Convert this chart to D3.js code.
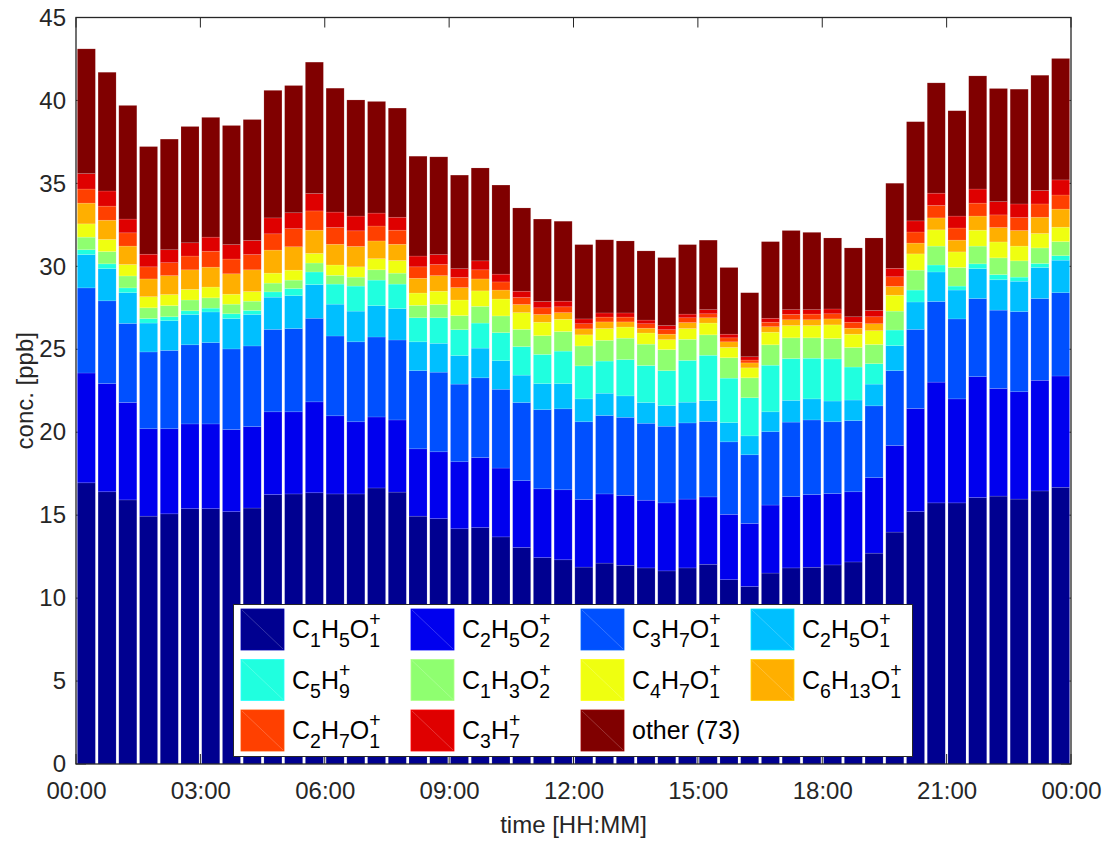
<!DOCTYPE html>
<html>
<head>
<meta charset="utf-8">
<script src="https://cdn.jsdelivr.net/npm/d3@7"></script>
<style>
  html, body { margin: 0; padding: 0; background: #fff; }
  svg { display: block; font-family: "Liberation Sans", Arial, Helvetica, sans-serif; }
</style>
</head>
<body>
<svg id="chart" width="1109" height="841"></svg>
<script>
// ---------------- DATA ----------------
const times = ["00:00","00:30","01:00","01:30","02:00","02:30","03:00","03:30","04:00","04:30","05:00","05:30",
  "06:00","06:30","07:00","07:30","08:00","08:30","09:00","09:30","10:00","10:30","11:00","11:30",
  "12:00","12:30","13:00","13:30","14:00","14:30","15:00","15:30","16:00","16:30","17:00","17:30",
  "18:00","18:30","19:00","19:30","20:00","20:30","21:00","21:30","22:00","22:30","23:00","23:30"];

const seriesNames = ["C1H5O1+","C2H5O2+","C3H7O1+","C2H5O1+","C5H9+","C1H3O2+","C4H7O1+","C6H13O1+","C2H7O1+","C3H7+","other (73)"];
const seriesColors = ["#000090","#0000EE","#0050FF","#00BFFF","#20FFDF","#8FFF70","#EFFF10","#FFAF00","#FF4000","#DF0000","#800000"];

const C1H5O1 = [16.95,16.41,15.92,14.94,15.08,15.39,15.39,15.21,15.43,16.24,16.28,16.35,16.28,16.28,16.64,16.39,14.94,14.79,14.18,14.25,13.69,13.05,12.44,12.31,11.87,12.11,11.98,11.82,11.64,11.82,12.04,11.11,10.70,11.51,11.82,11.86,12.00,12.18,12.71,13.98,15.21,15.74,15.74,16.06,16.15,15.97,16.46,16.68];
const C2H5O2 = [6.62,6.52,5.87,5.27,5.13,5.11,5.11,4.95,4.91,4.99,4.95,5.48,4.71,4.35,4.28,4.35,4.06,4.03,4.04,4.22,4.15,4.03,4.15,4.22,4.08,4.17,4.21,4.08,4.10,4.15,4.06,3.94,3.80,4.10,4.30,4.38,4.30,4.23,4.55,5.22,6.22,7.28,6.27,7.29,6.49,6.47,6.67,6.71];
const C3H7O1 = [5.13,4.99,4.77,4.63,4.72,4.77,4.90,4.86,4.86,4.97,5.02,5.04,4.81,4.82,4.82,4.82,4.71,4.80,4.68,4.81,4.75,4.71,4.77,4.88,4.68,4.73,4.71,4.64,4.62,4.59,4.55,4.37,4.14,4.42,4.49,4.50,4.33,4.29,4.33,4.51,4.77,4.86,4.82,4.71,4.72,4.83,4.93,5.02];
const C2H5O1 = [2.01,1.94,1.85,1.74,1.79,1.83,1.85,1.83,1.90,1.94,1.98,2.03,1.92,1.85,1.89,1.89,1.74,1.74,1.72,1.79,1.72,1.65,1.57,1.52,1.38,1.34,1.29,1.25,1.25,1.25,1.25,1.16,1.14,1.20,1.31,1.27,1.25,1.24,1.31,1.51,1.65,1.78,1.74,1.80,1.83,1.83,1.87,1.96];
const C5H9 = [0.29,0.29,0.29,0.27,0.24,0.22,0.23,0.29,0.24,0.32,0.43,0.76,1.21,1.51,1.54,1.48,1.45,1.54,1.56,1.51,1.69,1.72,1.76,1.96,1.99,1.94,2.19,2.23,2.10,2.52,2.74,2.68,2.30,2.81,2.52,2.45,2.54,1.99,1.23,0.94,0.72,0.42,0.24,0.29,0.31,0.25,0.24,0.27];
const C1H3O2 = [0.76,0.74,0.72,0.65,0.67,0.65,0.62,0.58,0.56,0.53,0.51,0.54,0.53,0.54,0.62,0.66,0.75,0.80,0.85,1.01,1.01,1.04,1.13,1.18,1.20,1.25,1.29,1.29,1.27,1.27,1.23,1.23,1.20,1.23,1.25,1.23,1.23,1.18,1.16,1.14,1.20,1.14,1.12,1.07,1.01,0.98,0.94,0.85];
const C4H7O1 = [0.80,0.73,0.69,0.67,0.67,0.64,0.65,0.60,0.58,0.60,0.60,0.58,0.62,0.62,0.67,0.76,0.74,0.80,0.94,0.93,1.02,1.01,0.81,0.74,0.67,0.71,0.67,0.67,0.60,0.65,0.71,0.62,0.60,0.76,0.74,0.74,0.82,0.80,0.83,0.96,0.98,0.98,0.94,0.96,0.96,0.89,0.87,0.87];
const C6H13O1 = [1.25,1.16,1.11,1.07,1.14,1.18,1.20,1.23,1.31,1.39,1.41,1.40,1.25,1.23,1.07,0.98,0.89,0.94,0.75,0.72,0.54,0.49,0.47,0.40,0.36,0.40,0.31,0.29,0.33,0.36,0.32,0.34,0.30,0.33,0.35,0.35,0.36,0.36,0.42,0.53,0.65,0.72,0.71,0.85,0.87,0.94,0.98,1.09];
const C2H7O1 = [0.85,0.85,0.80,0.73,0.78,0.83,0.96,0.89,0.92,0.98,1.09,1.16,1.01,0.94,0.90,0.85,0.69,0.67,0.61,0.55,0.49,0.42,0.40,0.35,0.31,0.29,0.29,0.27,0.27,0.29,0.24,0.24,0.17,0.27,0.32,0.34,0.31,0.36,0.42,0.58,0.67,0.75,0.73,0.78,0.76,0.78,0.80,0.85];
const C3H7 = [0.93,0.91,0.83,0.76,0.78,0.80,0.85,0.87,0.85,0.96,0.96,1.05,0.93,0.89,0.78,0.78,0.65,0.60,0.53,0.54,0.47,0.38,0.38,0.34,0.29,0.25,0.25,0.22,0.25,0.22,0.25,0.22,0.20,0.24,0.29,0.27,0.29,0.33,0.38,0.51,0.67,0.74,0.72,0.85,0.80,0.82,0.81,0.91];
const other73 = [7.52,7.16,6.85,6.49,6.67,7.01,7.22,7.18,7.29,7.69,7.67,7.92,7.47,7.00,6.73,6.58,6.02,5.89,5.64,5.60,5.37,5.02,4.97,4.82,4.48,4.41,4.34,4.17,4.10,4.19,4.19,4.02,3.86,4.62,4.77,4.66,4.28,4.15,4.37,5.13,5.98,6.65,6.35,6.82,6.82,6.92,6.95,7.32];

const xTickHours = [0,3,6,9,12,15,18,21,24];
const xTickLabels = ["00:00","03:00","06:00","09:00","12:00","15:00","18:00","21:00","00:00"];
const yTicks = [0,5,10,15,20,25,30,35,40,45];

const xLabel = "time [HH:MM]";
const yLabel = "conc. [ppb]";

// ---------------- BUILD ----------------
(function () {
const seriesValues = [C1H5O1,C2H5O2,C3H7O1,C2H5O1,C5H9,C1H3O2,C4H7O1,C6H13O1,C2H7O1,C3H7,other73];
const keys = seriesNames;
const table = times.map((t, i) => {
  const row = { time: t };
  keys.forEach((k, j) => row[k] = seriesValues[j][i]);
  return row;
});
const stacked = d3.stack().keys(keys)(table);

const svg = d3.select("#chart");
const pLeft = 76, pRight = 1071, pTop = 17.5, pBottom = 764;
const axisColor = "#262626";

const x = d3.scaleBand().domain(times).range([pLeft, pRight]).paddingInner(0.13).paddingOuter(0.065);
const xHours = d3.scaleLinear().domain([0, 24]).range([pLeft, pRight]);
const y = d3.scaleLinear().domain([0, 45]).range([pBottom, pTop]);
const color = d3.scaleOrdinal().domain(keys).range(seriesColors);

// tick marks (inside, drawn beneath data like MATLAB's bottom layer)
const ticksG = svg.append("g").attr("stroke", axisColor).attr("stroke-width", 1);
yTicks.forEach(v => {
  ticksG.append("line").attr("x1", pLeft).attr("x2", pLeft + 10).attr("y1", y(v)).attr("y2", y(v));
  ticksG.append("line").attr("x1", pRight).attr("x2", pRight - 10).attr("y1", y(v)).attr("y2", y(v));
});
xTickHours.forEach(h => {
  ticksG.append("line").attr("x1", xHours(h)).attr("x2", xHours(h)).attr("y1", pBottom).attr("y2", pBottom - 10);
  ticksG.append("line").attr("x1", xHours(h)).attr("x2", xHours(h)).attr("y1", pTop).attr("y2", pTop + 10);
});

// bars
const barsG = svg.append("g");
barsG.selectAll("g.layer").data(stacked).join("g")
  .attr("class", "layer")
  .attr("fill", d => color(d.key))
  .selectAll("rect").data(d => d).join("rect")
  .attr("x", d => x(d.data.time))
  .attr("width", x.bandwidth())
  .attr("y", d => y(d[1]))
  .attr("height", d => y(d[0]) - y(d[1]))
  .attr("stroke", "#ffffff")
  .attr("stroke-opacity", 0.22)
  .attr("stroke-width", 0.6);

// axes box
svg.append("rect").attr("x", pLeft).attr("y", pTop).attr("width", pRight - pLeft).attr("height", pBottom - pTop)
  .attr("fill", "none").attr("stroke", axisColor).attr("stroke-width", 1.3);

// y axis labels via d3 axis (ticks hidden, text only)
const yAxis = d3.axisLeft(y).tickValues(yTicks).tickSize(0).tickPadding(10).tickFormat(d3.format("d"));
const yAxG = svg.append("g").attr("transform", `translate(${pLeft},0)`).call(yAxis);
yAxG.select(".domain").remove();
yAxG.selectAll("text").attr("font-size", 24).attr("fill", axisColor)
  .attr("font-family", "'Liberation Sans', Arial, sans-serif");

const xAxis = d3.axisBottom(xHours).tickValues(xTickHours).tickSize(0).tickPadding(18)
  .tickFormat((d, i) => xTickLabels[i]);
const xAxG = svg.append("g").attr("transform", `translate(0,${pBottom})`).call(xAxis);
xAxG.select(".domain").remove();
xAxG.selectAll("text").attr("font-size", 24).attr("fill", axisColor)
  .attr("font-family", "'Liberation Sans', Arial, sans-serif");

svg.append("text").attr("x", (pLeft + pRight) / 2).attr("y", 833).attr("text-anchor", "middle")
  .attr("font-size", 24).attr("fill", axisColor).text(xLabel);
svg.append("text").attr("transform", `translate(33,${(pTop + pBottom) / 2}) rotate(-90)`)
  .attr("text-anchor", "middle").attr("font-size", 24).attr("fill", axisColor).text(yLabel);

// ---------------- LEGEND ----------------
const lg = svg.append("g");
const lx = 233.5, ly = 604.5, lw = 679, lh = 152;
lg.append("rect").attr("x", lx).attr("y", ly).attr("width", lw).attr("height", lh)
  .attr("fill", "#fff").attr("stroke", axisColor).attr("stroke-width", 1);

const colLeft = [241, 411, 581, 751];
const rowTop = [609, 659.5, 710];
const swW = 43, swH = 41;
const fs = 25, subFs = 19.5;

function drawFormula(g, name, tx, ty) {
  const t = g.append("text").attr("x", tx).attr("y", ty).attr("font-size", fs).attr("fill", "#000");
  const isFormula = /^([A-Z][a-z]?\d+)+\+$/.test(name);
  if (!isFormula) { t.text(name); return; }
  const parts = [...name.matchAll(/([A-Z][a-z]?)(\d+)/g)];
  let offset = 0, charCount = 0, lastSubStart = 0;
  parts.forEach(p => {
    t.append("tspan").attr("dy", -offset).text(p[1]);
    charCount += p[1].length;
    lastSubStart = charCount;
    t.append("tspan").attr("dy", 9).attr("font-size", subFs).text(p[2]);
    charCount += p[2].length;
    offset = 9;
  });
  let px = tx;
  try { px = t.node().getStartPositionOfChar(lastSubStart).x; } catch (e) {}
  g.append("text").attr("x", px).attr("y", ty - 12).attr("font-size", subFs).attr("fill", "#000").text("+");
}

keys.forEach((k, i) => {
  const c = i % 4, r = Math.floor(i / 4);
  const sx = colLeft[c], sy = rowTop[r];
  lg.append("rect").attr("x", sx).attr("y", sy).attr("width", swW).attr("height", swH)
    .attr("fill", color(k)).attr("stroke", d3.color(color(k)).brighter(0.6)).attr("stroke-width", 0.8);
  lg.append("line").attr("x1", sx + 1).attr("y1", sy + 1).attr("x2", sx + swW - 1).attr("y2", sy + swH - 1)
    .attr("stroke", "#ffffff").attr("stroke-opacity", 0.3).attr("stroke-width", 0.7);
  drawFormula(lg, k, sx + 51, sy + 29);
});
})();
</script>
</body>
</html>
